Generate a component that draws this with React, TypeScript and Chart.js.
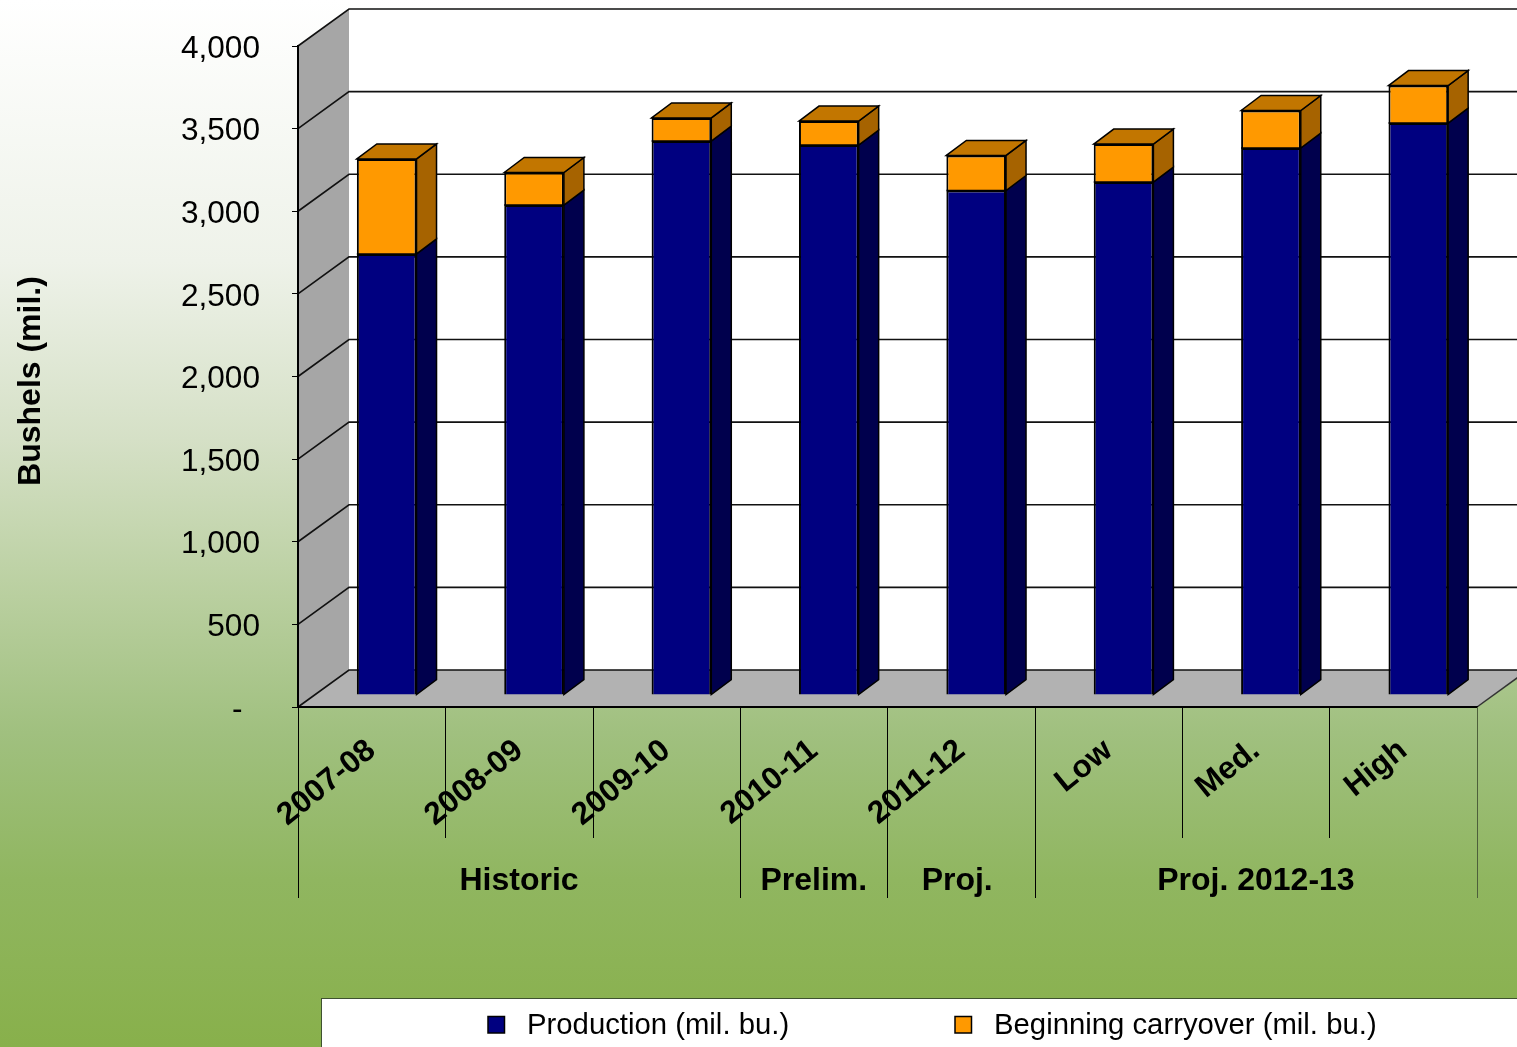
import React, { useEffect, useRef } from "react";
import { Chart, registerables } from "chart.js";

Chart.register(...registerables);

const categories = ["2007-08", "2008-09", "2009-10", "2010-11", "2011-12", "Low", "Med.", "High"];
const production = [2669, 2965, 3352, 3328, 3053, 3104, 3310, 3461];
const carryover = [575, 197, 140, 145, 212, 230, 227, 227];
const groupLabels = ["Historic", "Prelim.", "Proj.", "Proj. 2012-13"];
const groupSpans = [3, 1, 1, 3];
const groupShift = [0, 0, -4, 0];
const seriesNames = ["Production (mil. bu.)", "Beginning carryover (mil. bu.)"];
const yTitle = "Bushels (mil.)";

const FONT = '"Liberation Sans", Arial, sans-serif';
const NAVY = "#000080";
const NAVY_SIDE = "#00004d";
const ORANGE = "#ff9900";
const ORANGE_SIDE = "#a66300";
const ORANGE_TOP = "#c27600";

const WALL_DX = 51;
const WALL_DY = -37;
const BAR_SHIFT_X = 15;
const BAR_SHIFT_Y = -12;
const BAR_DX = 20;
const BAR_DY = -15;

function poly(ctx: CanvasRenderingContext2D, pts: number[][], fill: string | null, stroke: string | null, lw = 1) {
  ctx.beginPath();
  pts.forEach((p, i) => (i ? ctx.lineTo(p[0], p[1]) : ctx.moveTo(p[0], p[1])));
  if (fill) {
    ctx.closePath();
    ctx.fillStyle = fill;
    ctx.fill();
  }
  if (stroke) {
    ctx.strokeStyle = stroke;
    ctx.lineWidth = lw;
    ctx.stroke();
  }
}

const scenePlugin = {
  id: "scene",
  beforeDraw(chart: any) {
    const { ctx, chartArea: a, scales } = chart;
    const y = scales.y;
    ctx.save();
    poly(ctx, [[a.left + WALL_DX, a.top + WALL_DY], [a.right + WALL_DX, a.top + WALL_DY], [a.right + WALL_DX, a.bottom + WALL_DY], [a.left + WALL_DX, a.bottom + WALL_DY]], "#ffffff", null);
    poly(ctx, [[a.left, a.top], [a.left + WALL_DX, a.top + WALL_DY], [a.left + WALL_DX, a.bottom + WALL_DY], [a.left, a.bottom]], "#a6a6a6", null);
    poly(ctx, [[a.left, a.bottom], [a.left + WALL_DX, a.bottom + WALL_DY], [a.right + WALL_DX, a.bottom + WALL_DY], [a.right, a.bottom]], "#b2b2b2", null);
    y.ticks.forEach((t: any) => {
      const py = y.getPixelForValue(t.value);
      poly(ctx, [[a.left, py], [a.left + WALL_DX, py + WALL_DY], [a.right + WALL_DX, py + WALL_DY]], null, "#111111", 1.6);
    });
    poly(ctx, [[a.right, a.bottom], [a.right + WALL_DX, a.bottom + WALL_DY]], null, "#333333", 1.5);
    ctx.restore();
  },
  beforeDatasetsDraw(chart: any) {
    chart.ctx.save();
    chart.ctx.translate(BAR_SHIFT_X, BAR_SHIFT_Y);
  },
  afterDatasetsDraw(chart: any) {
    const { ctx } = chart;
    const count = chart.data.datasets.length;
    chart.data.datasets.forEach((_: any, di: number) => {
      chart.getDatasetMeta(di).data.forEach((bar: any) => {
        const r = bar.x + bar.width / 2;
        const l = bar.x - bar.width / 2;
        const top = bar.y;
        const base = bar.base;
        poly(ctx, [[r, top], [r + BAR_DX, top + BAR_DY], [r + BAR_DX, base + BAR_DY], [r, base]], di === 0 ? NAVY_SIDE : ORANGE_SIDE, "#000000", 1.5);
        poly(ctx, [[l, top], [r, top]], null, "#000000", 1.5);
        if (di === count - 1) {
          poly(ctx, [[l, top], [l + BAR_DX, top + BAR_DY], [r + BAR_DX, top + BAR_DY], [r, top]], ORANGE_TOP, "#000000", 1.5);
        }
      });
    });
    ctx.restore();
  },
  afterDraw(chart: any) {
    const { ctx, chartArea: a } = chart;
    const step = (a.right - a.left) / categories.length;
    ctx.save();
    const groupEdges = new Set<number>([0]);
    let running = 0;
    groupSpans.forEach((s) => {
      running += s;
      groupEdges.add(running);
    });
    for (let i = 0; i <= categories.length; i++) {
      const px = Math.round(a.left + i * step - 0.2) + 0.5;
      poly(ctx, [[px, a.bottom], [px, groupEdges.has(i) ? a.bottom + 191 : a.bottom + 131]], null, i === categories.length ? "#4d5f3a" : "#000000", 1);
    }
    ctx.fillStyle = "#000000";
    ctx.font = `bold 32px ${FONT}`;
    ctx.textAlign = "center";
    ctx.textBaseline = "middle";
    let start = 0;
    groupLabels.forEach((g, i) => {
      const mid = a.left + (start + groupSpans[i] / 2) * step + groupShift[i];
      ctx.fillText(g, mid, a.bottom + 174);
      start += groupSpans[i];
    });
    ctx.save();
    ctx.translate(31, 381);
    ctx.rotate(-Math.PI / 2);
    ctx.font = `bold 32px ${FONT}`;
    ctx.fillText(yTitle, 0, 0);
    ctx.restore();
    ctx.fillStyle = "#ffffff";
    ctx.fillRect(321.5, 998.5, 1300, 60);
    ctx.strokeStyle = "#3f5230";
    ctx.lineWidth = 1;
    ctx.strokeRect(321.5, 998.5, 1300, 60);
    const boxX = [488, 955];
    const textX = [527, 994];
    const colors = [NAVY, ORANGE];
    ctx.font = `29.3px ${FONT}`;
    ctx.textAlign = "left";
    seriesNames.forEach((name, i) => {
      ctx.fillStyle = colors[i];
      ctx.fillRect(boxX[i], 1016.5, 16.5, 16.5);
      ctx.strokeStyle = "#000000";
      ctx.lineWidth = 1.5;
      ctx.strokeRect(boxX[i], 1016.5, 16.5, 16.5);
      ctx.fillStyle = "#000000";
      ctx.fillText(name, textX[i], 1026);
    });
    ctx.restore();
  },
};

export default function App() {
  const ref = useRef<HTMLCanvasElement | null>(null);
  useEffect(() => {
    const chart = new Chart(ref.current as HTMLCanvasElement, {
      type: "bar",
      data: {
        labels: categories,
        datasets: [
          { label: seriesNames[0], data: production, backgroundColor: NAVY, borderColor: "#000000", borderWidth: 2 },
          { label: seriesNames[1], data: carryover, backgroundColor: ORANGE, borderColor: "#000000", borderWidth: 2 },
        ],
      },
      options: {
        responsive: false,
        animation: false,
        devicePixelRatio: 1,
        barPercentage: 0.405,
        categoryPercentage: 1,
        layout: { padding: { top: 46, right: 40, left: 0, bottom: 0 } },
        plugins: { legend: { display: false }, title: { display: false }, tooltip: { enabled: false } },
        scales: {
          x: {
            stacked: true,
            afterFit: (s: any) => {
              s.height = 340;
              s.paddingTop = 0;
              s.paddingBottom = 0;
              s.paddingLeft = 0;
              s.paddingRight = 0;
            },
            grid: { display: false },
            border: { display: true, color: "#000000", width: 2 },
            ticks: {
              autoSkip: false,
              minRotation: 39,
              maxRotation: 39,
              padding: 17,
              color: "#000000",
              font: { family: FONT, size: 31.5, weight: "bold" },
            },
          },
          y: {
            stacked: true,
            min: 0,
            max: 4000,
            afterFit: (s: any) => {
              s.width = 298;
              s.paddingTop = 0;
              s.paddingBottom = 0;
              s.paddingLeft = 0;
              s.paddingRight = 0;
              const original = s.getLabelItems.bind(s);
              s.getLabelItems = (area: any) =>
                original(area).map((item: any) => ({ ...item, textOffset: item.textOffset + 1.5 }));
            },
            grid: { drawOnChartArea: false, drawTicks: true, tickLength: 6, color: "#000000" },
            border: { display: true, color: "#000000", width: 2 },
            ticks: {
              stepSize: 500,
              padding: 32,
              color: "#000000",
              font: { family: FONT, size: 31.6 },
              callback: (v: any) => (v === 0 ? "-  " : Number(v).toLocaleString("en-US")),
            },
          },
        },
      },
      plugins: [scenePlugin],
    } as any);
    return () => chart.destroy();
  }, []);
  return (
    <div
      style={{
        position: "fixed",
        left: 0,
        top: 0,
        width: 1517,
        height: 1047,
        overflow: "hidden",
        background:
          "linear-gradient(180deg, #ffffff 0%, #eef2e9 25%, #d5e0c6 42%, #b9cf9f 57%, #a0c07f 70%, #90b660 84%, #88b04b 100%)",
      }}
    >
      <canvas ref={ref} width={1517} height={1047} style={{ display: "block" }} />
    </div>
  );
}
